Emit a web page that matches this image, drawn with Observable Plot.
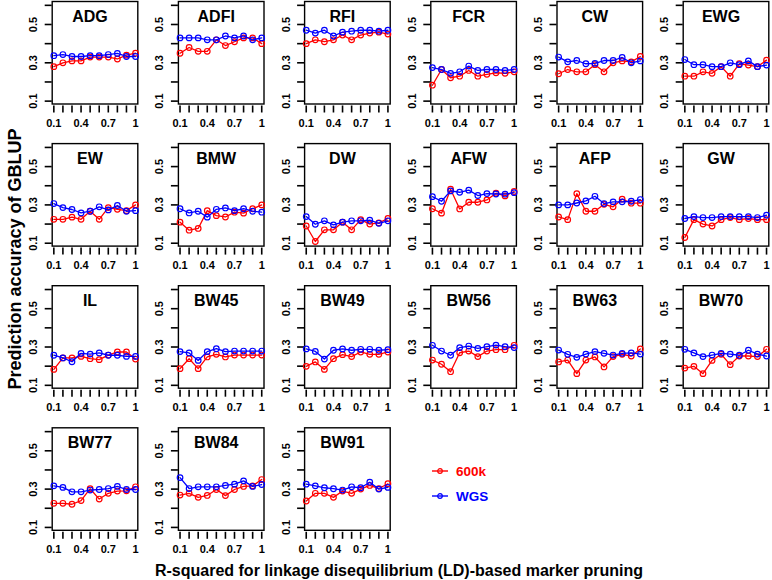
<!DOCTYPE html>
<html>
<head>
<meta charset="utf-8">
<script src="https://cdn.jsdelivr.net/npm/d3@7"></script>
<script src="https://cdn.jsdelivr.net/npm/@observablehq/plot@0.6"></script>
<style>
  body { margin: 0; background: #fff; font-family: "Liberation Sans", Arial, sans-serif; }
  #wrap { position: relative; width: 772px; height: 580px; overflow: hidden; }
  #ytitle { position: absolute; left: 15px; top: 259px; transform: translate(-50%, -50%) rotate(-90deg);
            font-weight: bold; font-size: 18px; white-space: nowrap; color: #000; }
  #xtitle { position: absolute; left: 399px; top: 571px; transform: translate(-50%, -50%);
            font-weight: bold; font-size: 16px; white-space: nowrap; color: #000; }
  .leg { position: absolute; left: 431px; display: flex; align-items: center; font-weight: bold; font-size: 13.5px; }
  .leg svg { margin-right: 7px; }
</style>
</head>
<body>
<div id="wrap">
  <div id="chart"></div>
  <div id="ytitle">Prediction accuracy of GBLUP</div>
  <div id="xtitle">R-squared for linkage disequilibrium (LD)-based marker pruning</div>
  <div id="legend"></div>
</div>
<script>
// ---- data ----
const traits = ["ADG","ADFI","RFI","FCR","CW","EWG",
                "EW","BMW","DW","AFW","AFP","GW",
                "IL","BW45","BW49","BW56","BW63","BW70",
                "BW77","BW84","BW91"];
const rSquared = [0.1, 0.2, 0.3, 0.4, 0.5, 0.6, 0.7, 0.8, 0.9, 1.0];
const xTicks = [0.1, 0.2, 0.3, 0.4, 0.5, 0.6, 0.7, 0.8, 0.9, 1.0];
const xTickLabels = [0.1, 0.4, 0.7, 1];
const yTicks = [0.1, 0.2, 0.3, 0.4, 0.5, 0.6];
const yTickLabels = [0.1, 0.3, 0.5];
const seriesNames = ["600k", "WGS"];
const seriesColors = ["#ff0000", "#0000ff"];

const acc600k = [
  [0.28,0.30,0.31,0.31,0.33,0.33,0.33,0.32,0.34,0.35],        // ADG
  [0.35,0.38,0.36,0.36,0.42,0.39,0.41,0.43,0.43,0.40],        // ADFI
  [0.40,0.42,0.41,0.42,0.445,0.42,0.445,0.455,0.46,0.45],     // RFI
  [0.183,0.265,0.222,0.23,0.26,0.23,0.24,0.248,0.245,0.253],  // FCR
  [0.243,0.265,0.253,0.253,0.29,0.253,0.30,0.31,0.305,0.333], // CW
  [0.23,0.23,0.253,0.245,0.28,0.23,0.295,0.288,0.28,0.314],   // EWG
  [0.225,0.225,0.236,0.225,0.267,0.225,0.286,0.277,0.27,0.30],// EW
  [0.21,0.168,0.177,0.27,0.244,0.237,0.262,0.257,0.28,0.30],  // BMW
  [0.19,0.109,0.17,0.17,0.21,0.17,0.223,0.20,0.206,0.229],    // DW
  [0.28,0.257,0.382,0.279,0.314,0.314,0.326,0.361,0.347,0.37],// AFW
  [0.237,0.223,0.359,0.267,0.267,0.303,0.29,0.33,0.309,0.309],// AFP
  [0.13,0.223,0.20,0.19,0.223,0.234,0.223,0.229,0.223,0.223], // GW
  [0.183,0.243,0.243,0.251,0.239,0.234,0.258,0.274,0.274,0.237], // IL
  [0.187,0.239,0.187,0.248,0.262,0.248,0.258,0.258,0.258,0.258], // BW45
  [0.199,0.222,0.183,0.239,0.26,0.25,0.274,0.262,0.262,0.274],   // BW49
  [0.232,0.21,0.171,0.27,0.279,0.25,0.279,0.286,0.286,0.309],    // BW56
  [0.222,0.232,0.161,0.232,0.248,0.196,0.25,0.262,0.253,0.29],   // BW63
  [0.19,0.199,0.161,0.23,0.262,0.208,0.253,0.253,0.25,0.288],    // BW70
  [0.226,0.226,0.221,0.24,0.302,0.248,0.278,0.29,0.291,0.312],   // BW77
  [0.269,0.278,0.257,0.267,0.298,0.266,0.298,0.314,0.317,0.35],  // BW84
  [0.238,0.278,0.278,0.257,0.29,0.278,0.30,0.319,0.303,0.328]    // BW91
];
const accWGS = [
  [0.337,0.343,0.333,0.333,0.337,0.337,0.343,0.349,0.333,0.333], // ADG
  [0.43,0.43,0.43,0.42,0.42,0.44,0.43,0.44,0.42,0.43],           // ADFI
  [0.47,0.455,0.47,0.44,0.46,0.465,0.47,0.47,0.465,0.47],        // RFI
  [0.275,0.265,0.245,0.253,0.283,0.26,0.265,0.265,0.26,0.265],   // FCR
  [0.33,0.305,0.312,0.295,0.297,0.312,0.312,0.328,0.30,0.31],    // CW
  [0.317,0.29,0.29,0.28,0.28,0.30,0.29,0.31,0.28,0.288],         // EWG
  [0.307,0.286,0.276,0.258,0.267,0.29,0.274,0.297,0.267,0.27],   // EW
  [0.28,0.258,0.267,0.236,0.277,0.284,0.27,0.28,0.267,0.262],    // BMW
  [0.239,0.199,0.217,0.196,0.21,0.217,0.217,0.22,0.204,0.217],   // DW
  [0.343,0.319,0.373,0.366,0.377,0.349,0.359,0.357,0.356,0.364], // AFW
  [0.30,0.30,0.31,0.321,0.345,0.307,0.316,0.316,0.319,0.328],    // AFP
  [0.229,0.239,0.234,0.234,0.239,0.239,0.239,0.239,0.234,0.246], // GW
  [0.257,0.243,0.223,0.267,0.263,0.269,0.257,0.257,0.251,0.251], // IL
  [0.276,0.269,0.23,0.276,0.291,0.276,0.279,0.279,0.279,0.279],  // BW45
  [0.29,0.277,0.237,0.283,0.29,0.283,0.288,0.288,0.283,0.286],   // BW49
  [0.309,0.279,0.257,0.297,0.305,0.293,0.302,0.31,0.302,0.297],  // BW56
  [0.284,0.262,0.246,0.263,0.276,0.267,0.258,0.267,0.269,0.263], // BW63
  [0.288,0.269,0.25,0.258,0.267,0.263,0.257,0.283,0.263,0.253],  // BW70
  [0.317,0.309,0.286,0.286,0.295,0.298,0.303,0.314,0.298,0.298], // BW77
  [0.36,0.303,0.312,0.312,0.312,0.319,0.326,0.343,0.314,0.324],  // BW84
  [0.326,0.317,0.307,0.302,0.295,0.312,0.307,0.336,0.30,0.309]   // BW91
];

// ---- build tidy tables ----
const nCols = 6;
const panels = traits.map((t, i) => ({trait: t, col: i % nCols, row: Math.floor(i / nCols)}));
function rows(values) {
  return panels.flatMap((p, i) => rSquared.map((r, j) => ({...p, r, acc: values[i][j]})));
}
const data600k = rows(acc600k);
const dataWGS = rows(accWGS);

const axisFont = {fontSize: 11, fontWeight: "bold"};

const chart = Plot.plot({
  width: 772,
  height: 580,
  marginLeft: 51.7,
  marginRight: 3.7,
  marginTop: 1.0,
  marginBottom: 50.2,
  style: {fontFamily: "'Liberation Sans', Arial, sans-serif", background: "white", color: "black"},
  fx: {domain: d3.range(6), paddingInner: 0.3217, paddingOuter: 0, round: false, axis: null},
  fy: {domain: d3.range(4), paddingInner: 0.2787, paddingOuter: 0, round: false, axis: null},
  x: {domain: [0.082, 1.025]},
  y: {domain: [0.085, 0.62]},
  marks: [
    Plot.axisX({
      ticks: xTicks, tickSize: 7, tickPadding: 6, dy: 2, strokeWidth: 1.6,
      tickFormat: d => xTickLabels.includes(d) ? String(d) : "",
      facetAnchor: null, label: null, ...axisFont
    }),
    Plot.axisY({
      ticks: yTicks, tickSize: 7, tickPadding: 8, strokeWidth: 1.6, tickRotate: -90,
      tickFormat: d => yTickLabels.includes(d) ? d.toFixed(1) : "",
      facetAnchor: null, label: null, ...axisFont
    }),
    Plot.frame({stroke: "black", strokeWidth: 1.4}),
    Plot.line(data600k, {x: "r", y: "acc", fx: "col", fy: "row", stroke: seriesColors[0], strokeWidth: 1.3}),
    Plot.dot(data600k, {x: "r", y: "acc", fx: "col", fy: "row", stroke: seriesColors[0], strokeWidth: 1.2, r: 2.8, fill: "none"}),
    Plot.line(dataWGS, {x: "r", y: "acc", fx: "col", fy: "row", stroke: seriesColors[1], strokeWidth: 1.3}),
    Plot.dot(dataWGS, {x: "r", y: "acc", fx: "col", fy: "row", stroke: seriesColors[1], strokeWidth: 1.2, r: 2.8, fill: "none"}),
    Plot.text(panels, {text: "trait", fx: "col", fy: "row", frameAnchor: "top", dy: 15, dx: -5,
                       lineAnchor: "middle", fontSize: 16, fontWeight: "bold", fill: "black"})
  ]
});
document.getElementById("chart").appendChild(chart);

// ---- legend ----
const legend = document.getElementById("legend");
const legendTops = [463, 488];
seriesNames.forEach((name, i) => {
  const c = seriesColors[i];
  const div = document.createElement("div");
  div.className = "leg";
  div.style.top = legendTops[i] + "px";
  div.style.color = c;
  div.innerHTML = `<svg width="18" height="16"><line x1="1" y1="8" x2="17" y2="8" stroke="${c}" stroke-width="1.4"/><circle cx="9" cy="8" r="2.3" fill="none" stroke="${c}" stroke-width="1.2"/></svg><span>${name}</span>`;
  legend.appendChild(div);
});
</script>
</body>
</html>
